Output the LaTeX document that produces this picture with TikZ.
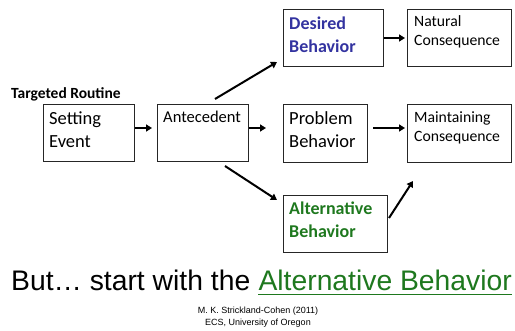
\documentclass[tikz,border=0pt]{standalone}
\usepackage{fontspec}
\setmainfont{Carlito}
\newfontfamily\arialfont{Liberation Sans}
\usetikzlibrary{arrows.meta}
\definecolor{dblue}{RGB}{51,51,160}
\definecolor{dgreen}{RGB}{30,120,30}
\begin{document}
\begin{tikzpicture}[x=1pt,y=-1pt,
  boxnode/.style={draw=black!85,line width=0.9pt,anchor=north west,inner sep=0pt},
  bigtxt/.style={anchor=base west,align=left,inner sep=0pt,font=\fontsize{18.5}{23}\selectfont},
  smalltxt/.style={anchor=base west,align=left,inner sep=0pt,font=\fontsize{15.7}{19}\selectfont},
  bottomtxt/.style={anchor=base west,inner sep=0pt,font=\arialfont\fontsize{28.3}{32}\selectfont},
  arr/.style={line width=2pt,-{Triangle[length=6pt,width=7pt]}}]
\useasboundingbox (0,0) rectangle (515,331);
% boxes
\node[boxnode,minimum width=91,minimum height=57] (se) at (43,104) {};
\node[boxnode,minimum width=91,minimum height=57] (an) at (157,104) {};
\node[boxnode,minimum width=100,minimum height=57] (db) at (283,9) {};
\node[boxnode,minimum width=104,minimum height=57] (nc) at (407,9) {};
\node[boxnode,minimum width=84,minimum height=58] (pb) at (283,104) {};
\node[boxnode,minimum width=104,minimum height=58] (mc) at (407,104) {};
\node[boxnode,minimum width=104,minimum height=57] (ab) at (283,195) {};
% texts (base = baseline of last line)
\node[anchor=base west,inner sep=0pt,font=\bfseries\fontsize{15.5}{18}\selectfont] (tr) at (11,98.5) {Targeted Routine};
\node[bigtxt] (set) at (49,148) {Setting\\Event};
\node[smalltxt,font=\fontsize{16.5}{19}\selectfont] (ant) at (163,123) {Antecedent};
\node[bigtxt,font=\bfseries\fontsize{18}{23}\selectfont,text=dblue] (dbt) at (289,53) {Desired\\Behavior};
\node[smalltxt] (nct) at (414,46) {Natural\\Consequence};
\node[bigtxt] (pbt) at (289,148) {Problem\\Behavior};
\node[smalltxt] (mct) at (414,142) {Maintaining\\Consequence};
\node[bigtxt,font=\bfseries\fontsize{18}{23}\selectfont,text=dgreen] (abt) at (289,238) {Alternative\\Behavior};
% arrow end coordinates
\coordinate (a1s) at (215,99);  \coordinate (a1e) at (277,62);
\coordinate (a2s) at (225,166); \coordinate (a2e) at (277,200);
\coordinate (a3s) at (389,218); \coordinate (a3e) at (413,181);
% arrows
\draw[arr] (se.east |- 0,128) -- (152,128);
\draw[arr] (an.east |- 0,128) -- (266,128);
\draw[arr] (a1s) -- (a1e);
\draw[arr] (a2s) -- (a2e);
\draw[arr] (db.east |- 0,38) -- (405,38);
\draw[arr] (373,128) -- (405,128);
\draw[arr] (a3s) -- (a3e);
% bottom text
\node[bottomtxt] (but) at (11,291) {But\ldots{} start with the};
\node[bottomtxt,text=dgreen] (altb) at ([xshift=7.9pt]but.base east) {Alternative Behavior};
\draw[dgreen,line width=1.3pt] ([yshift=-3.5pt]altb.base west) -- ([yshift=-3.5pt]altb.base east);
\node[anchor=base,inner sep=0pt,font=\arialfont\fontsize{9}{11}\selectfont] (cr1) at (258,314) {M. K. Strickland-Cohen (2011)};
\node[anchor=base,inner sep=0pt,font=\arialfont\fontsize{9}{11}\selectfont] (cr2) at (258,326) {ECS, University of Oregon};
\end{tikzpicture}
\end{document}
